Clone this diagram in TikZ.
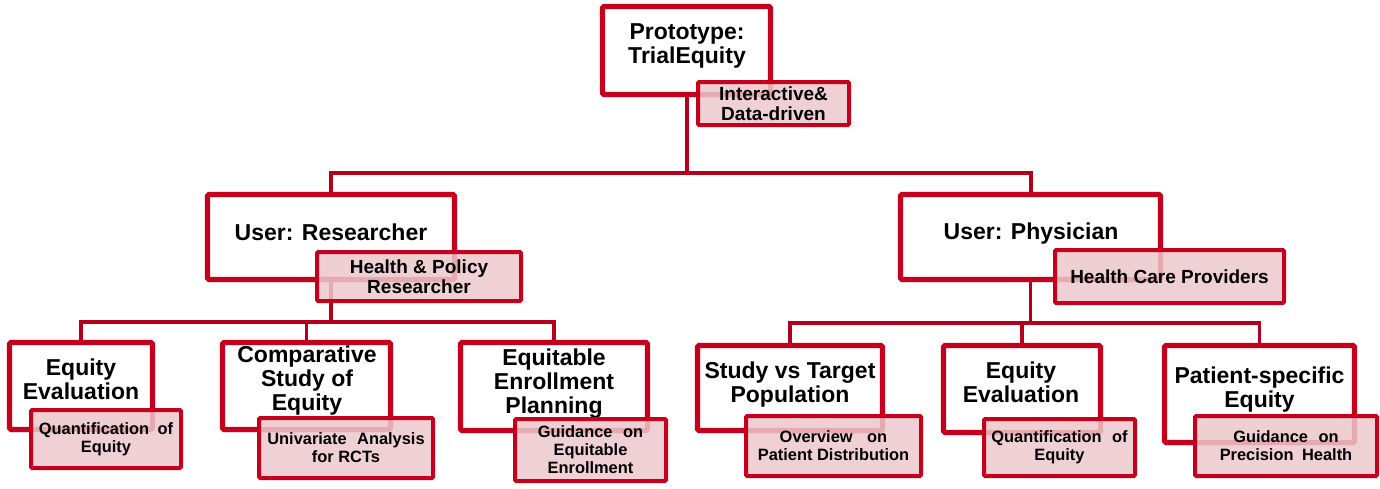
\documentclass[tikz,border=0pt]{standalone}
\usepackage{fontspec}
\setmainfont{Liberation Sans}
\usepackage{tikz}
\usetikzlibrary{shadows,backgrounds}

\definecolor{eqred}{RGB}{196,0,28}
\definecolor{eqline}{RGB}{180,0,28}
\definecolor{eqpink}{RGB}{236,200,204}

\begin{document}
\begin{tikzpicture}[
    x=0.5pt, y=-0.5pt,
    sz/.style 2 args={minimum width=#1*0.5pt, minimum height=#2*0.5pt},
    box/.style={draw=eqred, line width=2.7pt, fill=white, inner sep=0pt,
      rounded corners=0.8pt,
      drop shadow={shadow xshift=-0.4pt, shadow yshift=-1.4pt, opacity=0.25}},
    head/.style={align=center, inner sep=0pt,
      font=\bfseries\fontsize{11.5}{12}\selectfont},
    tag/.style={draw=eqred, line width=2pt, fill=eqpink, fill opacity=0.85,
      text opacity=1, inner sep=0pt, align=center, rounded corners=0.6pt,
      font=\bfseries\fontsize{9.5}{10}\selectfont},
    tagsm/.style={tag, font=\bfseries\fontsize{8.2}{9}\selectfont},
    link/.style={draw=eqline, line width=2pt},
    linksm/.style={draw=eqline, line width=1.6pt},
  ]
  \useasboundingbox (0,0) rectangle (1380,488);

  %% ---- top: the prototype ------------------------------------------------
  \node[box, sz={168}{88}] (proto) at (686.5,50.5) {};
  \node[head] (protoT) at (687,46.4) {Prototype:\\TrialEquity};
  \node[tag, sz={151}{43}] (protoS) at (773.5,103.5) {Interactive\&\\Data-driven};

  %% ---- the two users -------------------------------------------------------
  \node[box, sz={247}{85}] (res) at (331,237) {};
  \node[head] (resT) at (331,232.5) {User: Researcher};
  \node[tag, sz={204}{49}] (resS) at (419,276.5) {Health \& Policy\\Researcher};

  \node[box, sz={260}{85}] (phy) at (1030.5,237) {};
  \node[head] (phyT) at (1031,234) {User: Physician};
  \node[tag, sz={229}{53}] (phyS) at (1169.5,276.5) {Health Care Providers};

  %% ---- researcher tasks ------------------------------------------------------
  \node[box, sz={143}{87}] (eqA) at (81,386) {};
  \node[head] (eqAT) at (81,379.5) {Equity\\Evaluation};
  \node[tagsm, sz={150}{58}] (eqAS) at (106,439) {Quantification\hspace{2pt} of\\Equity};

  \node[box, sz={168}{87}] (comp) at (306.5,386) {};
  \node[head] (compT) at (307,381) {Comparative\\Study of\\Equity};
  \node[tagsm, sz={174}{60}] (compS) at (346,448) {Univariate\hspace{3pt} Analysis\\for RCTs};

  \node[box, sz={187}{88}] (enrol) at (554,386.5) {};
  \node[head] (enrolT) at (554,383.4) {Equitable\\Enrollment\\Planning};
  \node[tagsm, sz={151}{62}] (enrolS) at (590.5,450) {Guidance\hspace{3pt} on\\Equitable\\Enrollment};

  %% ---- physician tasks -------------------------------------------------------
  \node[box, sz={185}{85}] (study) at (790,388) {};
  \node[head] (studyT) at (790,384.4) {Study vs Target\\Population};
  \node[tagsm, sz={175}{60}] (studyS) at (833.5,446) {Overview\hspace{5pt} on\\Patient Distribution};

  \node[box, sz={157}{87}] (eqB) at (1022,389) {};
  \node[head] (eqBT) at (1021,382.5) {Equity\\Evaluation};
  \node[tagsm, sz={151}{57}] (eqBS) at (1059.5,447.5) {Quantification\hspace{3pt} of\\Equity};

  \node[box, sz={190}{97}] (pat) at (1259.5,394) {};
  \node[head] (patT) at (1259.5,389.4) {Patient-specific\\Equity};
  \node[tagsm, sz={182}{60}] (patS) at (1286,446) {Guidance\hspace{3pt} on\\Precision\hspace{2pt} Health};

  %% ---- tree connectors, behind the boxes -------------------------------------
  \coordinate (barA) at (0,173);
  \coordinate (barB) at (0,322);
  \coordinate (barC) at (0,323);
  \begin{scope}[on background layer]
    \draw[link] (proto.south) |- (res.north |- barA) -- (res.north);
    \draw[link] (proto.south) |- (phy.north |- barA) -- (phy.north);
    \draw[linksm] (res.south) |- (eqA.north |- barB) -- (eqA.north);
    \draw[linksm] (res.south) |- (comp.north |- barB) -- (comp.north);
    \draw[linksm] (res.south) |- (enrol.north |- barB) -- (enrol.north);
    \draw[linksm] (phy.south) |- (study.north |- barC) -- (study.north);
    \draw[linksm] (phy.south) |- (eqB.north |- barC) -- (eqB.north);
    \draw[linksm] (phy.south) |- (pat.north |- barC) -- (pat.north);
  \end{scope}
\end{tikzpicture}
\end{document}
